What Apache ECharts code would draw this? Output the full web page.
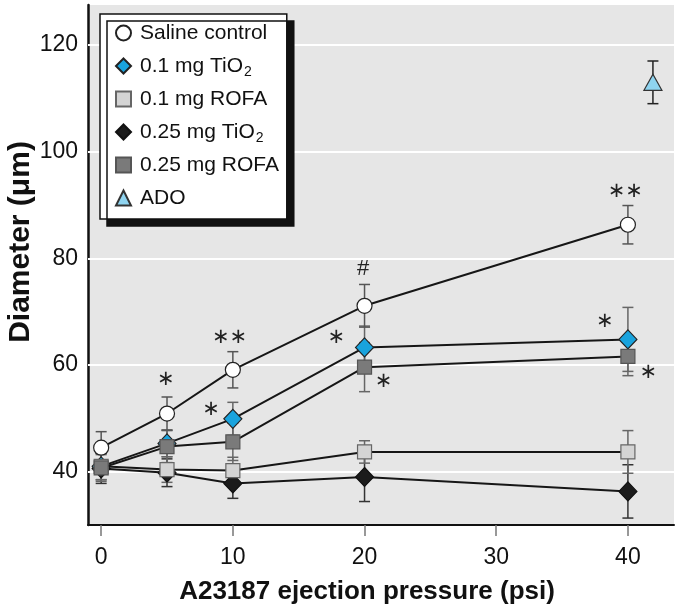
<!DOCTYPE html>
<html>
<head>
<meta charset="utf-8">
<script src="https://cdn.jsdelivr.net/npm/echarts@6/dist/echarts.min.js"></script>
<style>
html,body{margin:0;padding:0;background:#fff;}
#chart{width:678px;height:612px;}
</style>
</head>
<body>
<div id="chart"></div>
<script>
// ---- data ----
const xPressure = [0, 5, 10, 20, 40];
const xTicks = [0, 10, 20, 30, 40];
const yTicks = [40, 60, 80, 100, 120];

const salineMean = [44.5, 50.9, 59.1, 71.1, 86.3];
const salineErr  = [3.0, 3.1, 3.4, 4.0, 3.6];
const tio01Mean  = [41.0, 45.3, 49.9, 63.3, 64.8];
const tio01Err   = [2.5, 2.5, 3.1, 4.0, 6.0];
const rofa01Mean = [41.0, 40.4, 40.2, 43.7, 43.7];
const rofa01Err  = [2.5, 2.4, 2.5, 2.1, 4.0];
const tio025Mean = [40.6, 39.8, 37.8, 39.0, 36.3];
const tio025Err  = [2.8, 2.6, 2.8, 4.6, 5.0];
const rofa025Mean = [40.7, 44.7, 45.6, 59.6, 61.6];
const rofa025Err  = [2.5, 3.0, 3.5, 4.6, 3.6];
const adoX    = [41.9];
const adoMean = [113.0];
const adoErr  = [4.0];

const annoX    = [4.9, 9.75, 19.9, 39.8, 8.35, 17.85, 21.45, 38.25, 41.55];
const annoY    = [57.2, 65.2, 78.1, 92.5, 51.7, 65.1, 56.9, 68.1, 58.6];
const annoText = ['\u2217', '\u2217\u2217', '#', '\u2217\u2217', '\u2217', '\u2217', '\u2217', '\u2217', '\u2217'];

const names = ['Saline control', '0.1 mg TiO2', '0.1 mg ROFA', '0.25 mg TiO2', '0.25 mg ROFA', 'ADO'];

// ---- helpers ----
const FONT = '"Liberation Sans", Arial, sans-serif';
function pts(xs, ys) { return xs.map((x, i) => [x, ys[i]]); }
function errData(xs, m, e) { return xs.map((x, i) => [x, m[i] - e[i], m[i] + e[i]]); }
function errSeries(name, xs, m, e, color) {
  return {
    name: name, type: 'custom', z: 3, silent: true,
    dimensions: ['x', 'lo', 'hi'],
    encode: { x: 0, y: [1, 2] },
    data: errData(xs, m, e),
    renderItem: function (params, api) {
      const t = api.coord([api.value(0), api.value(2)]);
      const b = api.coord([api.value(0), api.value(1)]);
      const hw = 5.5;
      const st = { stroke: color, lineWidth: 1.5 };
      return { type: 'group', children: [
        { type: 'line', shape: { x1: t[0], y1: t[1], x2: b[0], y2: b[1] }, style: st },
        { type: 'line', shape: { x1: t[0] - hw, y1: t[1], x2: t[0] + hw, y2: t[1] }, style: st },
        { type: 'line', shape: { x1: b[0] - hw, y1: b[1], x2: b[0] + hw, y2: b[1] }, style: st }
      ]};
    }
  };
}
function lineSeries(name, data, symbol, size, fill, border, z) {
  return {
    name: name, type: 'line', z: z, data: data,
    symbol: symbol, symbolSize: size, showAllSymbol: true,
    itemStyle: { color: fill, borderColor: border, borderWidth: 1.2, opacity: 1 },
    lineStyle: { color: '#161616', width: 2 },
    emphasis: { disabled: true }
  };
}

const chart = echarts.init(document.getElementById('chart'), null, { renderer: 'canvas' });

const option = {
  animation: false,
  backgroundColor: '#ffffff',
  grid: { left: 88, right: 4, top: 5, bottom: 87, show: true, backgroundColor: '#e6e6e6', borderWidth: 0 },
  xAxis: {
    type: 'value', min: -1, max: 43.5,
    axisLine: { show: true, onZero: false, lineStyle: { color: '#111', width: 2 } },
    axisTick: { show: true, customValues: xTicks, length: 11, lineStyle: { color: '#777', width: 1.5 } },
    axisLabel: { customValues: xTicks, color: '#111', fontFamily: FONT, fontSize: 23, margin: 21 },
    splitLine: { show: false }
  },
  yAxis: {
    type: 'value', min: 30, max: 127.5,
    axisLine: { show: true, onZero: false, lineStyle: { color: '#111', width: 2.5 } },
    axisTick: { show: false },
    axisLabel: { customValues: yTicks, color: '#111', fontFamily: FONT, fontSize: 23, margin: 10 },
    splitLine: { show: false }
  },
  legend: {
    data: [
      { name: names[0], icon: 'circle' },
      { name: names[1], icon: 'diamond' },
      { name: names[2], icon: 'rect' },
      { name: names[3], icon: 'diamond' },
      { name: names[4], icon: 'rect' },
      { name: names[5], icon: 'triangle' }
    ],
    orient: 'vertical', left: 100, top: 14, z: 10,
    selectedMode: false,
    itemWidth: 15, itemHeight: 15, itemGap: 7,
    padding: [6, 3, 8, 15],
    backgroundColor: '#ffffff', borderColor: '#111', borderWidth: 1.5,
    shadowColor: '#111', shadowBlur: 0, shadowOffsetX: 7, shadowOffsetY: 7,
    formatter: function (n) {
      if (n.endsWith('TiO2')) return '{t|' + n.slice(0, -1) + '}{s|2}';
      return '{t|' + n + '}{s| }';
    },
    textStyle: {
      rich: {
        t: { fontFamily: FONT, fontSize: 21, color: '#111', lineHeight: 24, verticalAlign: 'middle', padding: [0, 0, 0, 4] },
        s: { fontFamily: FONT, fontSize: 14, color: '#111', lineHeight: 12, verticalAlign: 'middle', padding: [12, 0, 0, 1] }
      }
    }
  },
  graphic: [
    { type: 'text', z: 10, x: 367, y: 592,
      style: { text: 'A23187 ejection pressure (psi)', font: 'bold 26px ' + FONT, fill: '#111', textAlign: 'center', textVerticalAlign: 'middle' } },
    { type: 'text', z: 10, x: 21, y: 242, rotation: Math.PI / 2,
      style: { text: 'Diameter (\u03bcm)', font: 'bold 30px ' + FONT, fill: '#111', textAlign: 'center', textVerticalAlign: 'middle' } }
  ],
  series: [
    {
      name: 'gridlines', type: 'line', data: [], z: 1, silent: true,
      markLine: {
        silent: true, z: 1, symbol: ['none', 'none'], label: { show: false },
        lineStyle: { color: '#ffffff', width: 2, type: 'solid' },
        emphasis: { disabled: true },
        data: yTicks.map(v => ({ yAxis: v }))
      }
    },
    errSeries('err-tio025', xPressure, tio025Mean, tio025Err, '#333'),
    errSeries('err-tio01', xPressure, tio01Mean, tio01Err, '#666'),
    errSeries('err-rofa01', xPressure, rofa01Mean, rofa01Err, '#666'),
    errSeries('err-rofa025', xPressure, rofa025Mean, rofa025Err, '#666'),
    errSeries('err-saline', xPressure, salineMean, salineErr, '#555'),
    errSeries('err-ado', adoX, adoMean, adoErr, '#222'),
    lineSeries(names[3], pts(xPressure, tio025Mean), 'diamond', [18, 19], '#1b1b1b', '#111', 4),
    lineSeries(names[1], pts(xPressure, tio01Mean), 'diamond', [18, 19], '#19a3dd', '#222', 5),
    lineSeries(names[2], pts(xPressure, rofa01Mean), 'rect', 14, '#d4d4d4', '#666', 6),
    lineSeries(names[4], pts(xPressure, rofa025Mean), 'rect', 14, '#7a7a7a', '#555', 7),
    lineSeries(names[0], pts(xPressure, salineMean), 'circle', 15, '#ffffff', '#222', 8),
    {
      name: names[5], type: 'scatter', z: 8, data: pts(adoX, adoMean),
      symbol: 'triangle', symbolSize: [18, 16],
      itemStyle: { color: '#8fd4f0', borderColor: '#333', borderWidth: 1.2, opacity: 1 },
      emphasis: { disabled: true }
    },
    {
      name: 'annotations', type: 'custom', z: 9, silent: true,
      data: pts(annoX, annoY),
      renderItem: function (params, api) {
        const p = api.coord([api.value(0), api.value(1)]);
        const txt = annoText[params.dataIndex];
        const isHash = txt === '#';
        return {
          type: 'text', x: p[0], y: p[1],
          style: {
            text: txt,
            font: (isHash ? '22px ' + FONT : '21px "DejaVu Sans", sans-serif'),
            fill: '#222', textAlign: 'center', textVerticalAlign: 'middle'
          }
        };
      }
    }
  ]
};
chart.setOption(option);
</script>
</body>
</html>
